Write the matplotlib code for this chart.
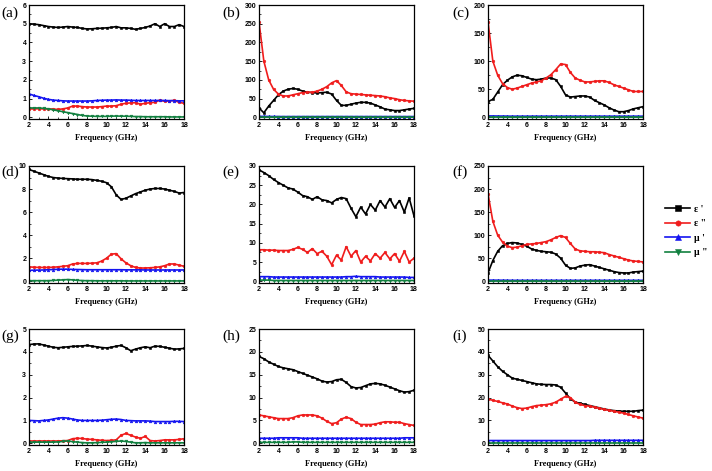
import matplotlib
matplotlib.use("Agg")
import matplotlib.pyplot as plt
from matplotlib.ticker import MultipleLocator

# Frequency grid (GHz)
freq = [2, 2.5, 3, 3.5, 4, 4.5, 5, 5.5, 6, 6.5, 7, 7.5, 8, 8.5, 9, 9.5, 10,
        10.5, 11, 11.5, 12, 12.5, 13, 13.5, 14, 14.5, 15, 15.5, 16, 16.5, 17, 17.5, 18]

# (a)
a_eps1 = [5.00, 4.98, 4.95, 4.90, 4.85, 4.82, 4.80, 4.82, 4.85, 4.82, 4.80, 4.75, 4.72, 4.73, 4.75, 4.76, 4.78,
          4.80, 4.85, 4.78, 4.78, 4.75, 4.70, 4.75, 4.80, 4.88, 5.00, 4.85, 5.00, 4.85, 4.85, 4.95, 4.85]
a_eps2 = [0.45, 0.45, 0.46, 0.45, 0.45, 0.44, 0.42, 0.45, 0.50, 0.60, 0.60, 0.57, 0.55, 0.55, 0.55, 0.57, 0.60,
          0.60, 0.62, 0.70, 0.75, 0.77, 0.78, 0.70, 0.75, 0.78, 0.80, 0.92, 0.85, 0.88, 0.90, 0.80, 0.75]
a_mu1 = [1.25, 1.17, 1.10, 1.02, 0.96, 0.92, 0.90, 0.88, 0.87, 0.87, 0.87, 0.87, 0.87, 0.88, 0.90, 0.91, 0.92,
         0.92, 0.93, 0.92, 0.92, 0.91, 0.90, 0.90, 0.90, 0.90, 0.90, 0.90, 0.90, 0.89, 0.89, 0.88, 0.88]
a_mu2 = [0.50, 0.50, 0.50, 0.48, 0.45, 0.40, 0.35, 0.30, 0.25, 0.20, 0.15, 0.10, 0.07, 0.06, 0.05, 0.05, 0.05,
         0.06, 0.07, 0.06, 0.06, 0.05, 0.04, 0.04, 0.03, 0.03, 0.03, 0.03, 0.03, 0.02, 0.02, 0.02, 0.02]

# (b)
b_eps1 = [25, 12, 30, 45, 60, 70, 75, 77, 75, 70, 67, 66, 65, 66, 67, 62, 45,
          32, 32, 35, 38, 40, 40, 38, 33, 28, 22, 20, 18, 18, 20, 22, 24]
b_eps2 = [255, 150, 100, 75, 62, 57, 57, 60, 63, 66, 67, 67, 70, 75, 82, 92, 98,
          85, 68, 63, 62, 61, 60, 59, 58, 57, 55, 52, 50, 47, 45, 44, 43]
b_mu1 = [2.5, 2.4, 2.3, 2.2, 2.1, 2.0, 2.0, 2.0, 2.0, 2.0, 2.0, 2.0, 2.0, 2.0, 2.0, 2.0, 2.0,
         2.0, 2.0, 2.0, 2.0, 2.0, 2.0, 2.0, 2.0, 2.0, 2.0, 2.0, 2.0, 2.0, 2.0, 2.0, 2.0]
b_mu2 = [0.5, 0.5, 0.5, 0.4, 0.4, 0.3, 0.3, 0.3, 0.3, 0.3, 0.3, 0.3, 0.3, 0.3, 0.3, 0.3, 0.3,
         0.3, 0.3, 0.3, 0.3, 0.3, 0.3, 0.3, 0.3, 0.3, 0.3, 0.3, 0.3, 0.3, 0.3, 0.3, 0.3]

# (c)
c_eps1 = [28, 32, 45, 58, 66, 72, 75, 74, 71, 68, 67, 68, 70, 70, 67, 55, 40,
          36, 37, 38, 38, 36, 30, 26, 22, 17, 13, 10, 10, 12, 15, 17, 19]
c_eps2 = [170, 100, 75, 60, 53, 50, 52, 55, 58, 61, 63, 65, 70, 76, 85, 95, 94,
          80, 70, 66, 63, 63, 64, 65, 65, 62, 58, 55, 52, 49, 46, 46, 46]
c_mu1 = [2.5, 2.4, 2.3, 2.2, 2.1, 2.0, 2.0, 2.0, 2.0, 2.0, 2.0, 2.0, 2.0, 2.0, 2.0, 2.0, 2.0,
         2.0, 2.0, 2.0, 2.0, 2.0, 2.0, 2.0, 2.0, 2.0, 2.0, 2.0, 2.0, 2.0, 2.0, 2.0, 2.0]
c_mu2 = [0.4, 0.4, 0.4, 0.3, 0.3, 0.3, 0.3, 0.3, 0.3, 0.3, 0.3, 0.3, 0.3, 0.3, 0.3, 0.3, 0.3,
         0.3, 0.3, 0.3, 0.3, 0.3, 0.3, 0.3, 0.3, 0.3, 0.3, 0.3, 0.3, 0.3, 0.3, 0.3, 0.3]

# (d)
d_eps1 = [9.70, 9.55, 9.40, 9.25, 9.10, 9.00, 8.95, 8.92, 8.90, 8.88, 8.85, 8.85, 8.85, 8.82, 8.75, 8.68, 8.55,
          8.20, 7.50, 7.10, 7.20, 7.40, 7.60, 7.75, 7.90, 8.00, 8.05, 8.05, 8.00, 7.90, 7.80, 7.65, 7.70]
d_eps2 = [1.25, 1.22, 1.20, 1.20, 1.20, 1.22, 1.25, 1.30, 1.35, 1.50, 1.55, 1.55, 1.55, 1.57, 1.60, 1.75, 2.00,
          2.35, 2.40, 1.95, 1.60, 1.35, 1.20, 1.15, 1.15, 1.17, 1.20, 1.25, 1.35, 1.50, 1.50, 1.40, 1.30]
d_mu1 = [0.95, 0.96, 0.97, 0.98, 1.00, 1.02, 1.04, 1.05, 1.05, 1.03, 1.02, 1.01, 1.00, 1.00, 1.00, 1.00, 1.00,
         1.00, 1.00, 1.00, 0.99, 0.99, 0.99, 0.99, 0.98, 0.98, 0.98, 0.98, 0.98, 0.98, 0.98, 0.98, 0.98]
d_mu2 = [0.05, 0.05, 0.05, 0.05, 0.05, 0.07, 0.10, 0.12, 0.15, 0.12, 0.08, 0.06, 0.05, 0.05, 0.04, 0.04, 0.04,
         0.04, 0.04, 0.04, 0.03, 0.03, 0.03, 0.03, 0.03, 0.03, 0.03, 0.03, 0.03, 0.03, 0.03, 0.03, 0.03]

# (e)
e_eps1 = [29.0, 28.3, 27.5, 26.5, 25.7, 25.0, 24.3, 24.0, 23.2, 22.3, 22.0, 21.3, 22.0, 21.2, 21.0, 20.4, 21.3,
          21.8, 21.5, 19.0, 16.8, 19.3, 17.5, 20.0, 18.5, 21.0, 19.3, 21.5, 19.2, 21.0, 18.0, 21.7, 17.0]
e_eps2 = [8.2, 8.2, 8.1, 8.1, 8.0, 8.0, 8.0, 8.3, 8.8, 8.3, 7.5, 8.5, 7.2, 7.8, 6.5, 4.3, 6.8,
          5.5, 9.0, 6.5, 8.0, 5.0, 6.5, 5.3, 7.2, 6.0, 7.5, 5.8, 7.2, 5.2, 7.8, 5.0, 6.0]
e_mu1 = [1.2, 1.2, 1.2, 1.1, 1.1, 1.1, 1.1, 1.1, 1.1, 1.1, 1.1, 1.1, 1.1, 1.1, 1.1, 1.1, 1.1,
         1.1, 1.2, 1.2, 1.3, 1.2, 1.2, 1.2, 1.2, 1.1, 1.1, 1.1, 1.1, 1.1, 1.1, 1.0, 1.0]
e_mu2 = [0.3, 0.3, 0.3, 0.2, 0.2, 0.2, 0.2, 0.2, 0.2, 0.2, 0.2, 0.2, 0.2, 0.2, 0.2, 0.2, 0.2,
         0.2, 0.2, 0.2, 0.2, 0.2, 0.2, 0.2, 0.2, 0.2, 0.2, 0.2, 0.2, 0.2, 0.2, 0.2, 0.2]

# (f)
f_eps1 = [18, 45, 65, 77, 82, 84, 83, 80, 76, 70, 67, 65, 64, 63, 59, 50, 35,
          28, 29, 33, 35, 36, 33, 30, 27, 24, 21, 19, 18, 18, 20, 21, 22]
f_eps2 = [190, 130, 100, 85, 76, 73, 74, 77, 80, 81, 82, 84, 86, 90, 95, 99, 95,
          82, 70, 66, 65, 64, 64, 63, 62, 58, 55, 52, 49, 46, 44, 43, 42]
f_mu1 = [2.5, 2.4, 2.3, 2.2, 2.1, 2.0, 2.0, 2.0, 2.0, 2.0, 2.0, 2.0, 2.0, 2.0, 2.0, 2.0, 2.0,
         2.0, 2.0, 2.0, 2.0, 2.0, 2.0, 2.0, 2.0, 2.0, 2.0, 2.0, 2.0, 2.0, 2.0, 2.0, 2.0]
f_mu2 = [0.4, 0.4, 0.4, 0.3, 0.3, 0.3, 0.3, 0.3, 0.3, 0.3, 0.3, 0.3, 0.3, 0.3, 0.3, 0.3, 0.3,
         0.3, 0.3, 0.3, 0.3, 0.3, 0.3, 0.3, 0.3, 0.3, 0.3, 0.3, 0.3, 0.3, 0.3, 0.3, 0.3]

# (g)
g_eps1 = [4.32, 4.34, 4.35, 4.30, 4.25, 4.20, 4.18, 4.20, 4.22, 4.24, 4.25, 4.26, 4.28, 4.25, 4.22, 4.19, 4.17,
          4.20, 4.25, 4.28, 4.18, 4.05, 4.12, 4.18, 4.22, 4.18, 4.25, 4.24, 4.20, 4.16, 4.12, 4.13, 4.15]
g_eps2 = [0.10, 0.10, 0.10, 0.10, 0.10, 0.10, 0.10, 0.11, 0.12, 0.20, 0.22, 0.21, 0.18, 0.17, 0.15, 0.13, 0.12,
          0.13, 0.15, 0.35, 0.43, 0.35, 0.27, 0.22, 0.30, 0.12, 0.10, 0.12, 0.15, 0.15, 0.15, 0.17, 0.20]
g_mu1 = [1.00, 0.99, 0.98, 1.00, 1.02, 1.06, 1.10, 1.12, 1.10, 1.06, 1.02, 1.00, 1.00, 1.00, 1.00, 1.01, 1.03,
         1.05, 1.06, 1.04, 1.00, 0.99, 0.98, 0.98, 0.98, 0.97, 0.95, 0.95, 0.95, 0.95, 0.96, 0.96, 0.95]
g_mu2 = [0.05, 0.05, 0.05, 0.05, 0.05, 0.05, 0.06, 0.08, 0.10, 0.07, 0.05, 0.03, 0.02, 0.02, 0.03, 0.04, 0.05,
         0.07, 0.08, 0.10, 0.08, 0.05, 0.02, 0.02, 0.03, 0.02, 0.02, 0.02, 0.02, 0.02, 0.02, 0.02, 0.02]

# (h)
h_eps1 = [19.0, 18.5, 17.8, 17.3, 16.8, 16.5, 16.3, 16.1, 15.7, 15.3, 14.9, 14.5, 14.1, 13.6, 13.4, 13.5, 13.9,
          14.0, 13.3, 12.4, 12.1, 12.2, 12.6, 13.0, 13.1, 13.0, 12.7, 12.3, 11.9, 11.5, 11.2, 11.3, 11.6]
h_eps2 = [6.2, 6.0, 5.8, 5.6, 5.4, 5.4, 5.4, 5.6, 6.0, 6.2, 6.2, 6.2, 6.0, 5.5, 4.8, 4.3, 4.5,
          5.3, 5.7, 5.4, 4.6, 4.1, 4.1, 4.1, 4.2, 4.5, 4.7, 4.7, 4.6, 4.6, 4.3, 4.1, 3.9]
h_mu1 = [1.1, 1.1, 1.1, 1.1, 1.2, 1.2, 1.2, 1.2, 1.2, 1.1, 1.1, 1.1, 1.1, 1.1, 1.1, 1.1, 1.1,
         1.1, 1.1, 1.1, 1.1, 1.1, 1.1, 1.1, 1.1, 1.1, 1.1, 1.1, 1.1, 1.1, 1.2, 1.2, 1.2]
h_mu2 = [0.2, 0.2, 0.2, 0.2, 0.2, 0.2, 0.2, 0.3, 0.3, 0.2, 0.2, 0.2, 0.2, 0.2, 0.2, 0.2, 0.2,
         0.2, 0.2, 0.2, 0.2, 0.2, 0.2, 0.2, 0.2, 0.2, 0.2, 0.2, 0.2, 0.2, 0.2, 0.2, 0.2]

# (i)
i_eps1 = [38.5, 36.0, 33.5, 31.5, 30.0, 28.5, 28.0, 27.5, 27.0, 26.5, 26.0, 25.8, 25.7, 25.7, 25.5, 24.5, 22.0,
          19.5, 18.0, 17.5, 17.0, 16.5, 16.0, 15.5, 15.0, 14.6, 14.3, 14.1, 14.0, 14.0, 14.0, 14.3, 14.5]
i_eps2 = [19.3, 18.8, 18.3, 17.7, 17.2, 16.3, 15.6, 15.2, 15.4, 16.0, 16.5, 16.7, 16.9, 17.3, 18.0, 19.3, 20.5,
          20.0, 18.0, 17.0, 16.5, 16.2, 15.8, 15.3, 14.8, 14.4, 14.0, 13.6, 13.2, 12.6, 12.0, 11.5, 11.0]
i_mu1 = [1.2, 1.2, 1.2, 1.2, 1.2, 1.2, 1.2, 1.2, 1.2, 1.2, 1.2, 1.2, 1.2, 1.2, 1.2, 1.2, 1.2,
         1.2, 1.2, 1.2, 1.2, 1.2, 1.3, 1.3, 1.3, 1.3, 1.3, 1.3, 1.3, 1.3, 1.3, 1.3, 1.3]
i_mu2 = [0.3, 0.3, 0.3, 0.3, 0.3, 0.3, 0.3, 0.3, 0.3, 0.3, 0.3, 0.3, 0.3, 0.3, 0.3, 0.3, 0.3,
         0.3, 0.3, 0.3, 0.3, 0.3, 0.3, 0.3, 0.3, 0.3, 0.3, 0.3, 0.3, 0.3, 0.3, 0.3, 0.3]

panel_labels = ["(a)", "(b)", "(c)", "(d)", "(e)", "(f)", "(g)", "(h)", "(i)"]
y_max = [6, 300, 200, 10, 30, 250, 5, 25, 50]
y_step = [1, 50, 50, 2, 5, 50, 1, 5, 10]
series_names = ["\u03b5 '", '\u03b5 "', "\u03bc '", '\u03bc "']

panels = [
    [a_eps1, a_eps2, a_mu1, a_mu2],
    [b_eps1, b_eps2, b_mu1, b_mu2],
    [c_eps1, c_eps2, c_mu1, c_mu2],
    [d_eps1, d_eps2, d_mu1, d_mu2],
    [e_eps1, e_eps2, e_mu1, e_mu2],
    [f_eps1, f_eps2, f_mu1, f_mu2],
    [g_eps1, g_eps2, g_mu1, g_mu2],
    [h_eps1, h_eps2, h_mu1, h_mu2],
    [i_eps1, i_eps2, i_mu1, i_mu2],
]

colors = ["black", "#f01c1c", "#1414f0", "#128040"]
markers = ["s", "o", "^", "v"]

W, H = 712, 471
fig = plt.figure(figsize=(W / 100, H / 100), dpi=100)

col_left = [29, 259, 488]
col_width = 155
row_top = [5, 166, 329]
row_bottom = [119, 283, 445]

handles = []
for k, data in enumerate(panels):
    r, c = divmod(k, 3)
    x0 = col_left[c] / W
    y0 = 1 - row_bottom[r] / H
    h = (row_bottom[r] - row_top[r]) / H
    ax = fig.add_axes([x0, y0, col_width / W, h])

    for j in range(4):
        ln, = ax.plot(freq, data[j], color=colors[j], marker=markers[j], markersize=1.9,
                      linewidth=1.2, markeredgewidth=0.4, label=series_names[j])
        if k == 5:
            handles.append(ln)

    ax.set_xlim(2, 18)
    ax.set_ylim(-0.015 * y_max[k], y_max[k])
    ax.xaxis.set_major_locator(MultipleLocator(2))
    ax.xaxis.set_minor_locator(MultipleLocator(1))
    ax.yaxis.set_major_locator(MultipleLocator(y_step[k]))
    ax.yaxis.set_minor_locator(MultipleLocator(y_step[k] / 2))
    ax.tick_params(which="both", direction="in", top=False, right=False, pad=2)
    ax.tick_params(which="major", length=2.5, width=0.6, labelsize=5)
    ax.tick_params(which="minor", length=1.5, width=0.5)
    for lab in ax.get_xticklabels() + ax.get_yticklabels():
        lab.set_fontweight("bold")
        lab.set_family("Liberation Sans")
    for sp in ax.spines.values():
        sp.set_linewidth(0.9)
    ax.set_xlabel("Frequency (GHz)", fontsize=6, fontweight="bold",
                  family="Liberation Serif", labelpad=4)

    lx = [1, 222, 452][c]
    ly = [13, 172, 336][r]
    fig.text(lx / W, 1 - ly / H, panel_labels[k], fontsize=11, family="Liberation Serif",
             ha="left", va="center")

fig.legend(handles=handles, labels=series_names, loc="upper left",
           bbox_to_anchor=(660 / W, 1 - 200 / H), frameon=False,
           prop={"family": "Liberation Serif", "weight": "bold", "size": 7},
           handlelength=2.6, handletextpad=0.4, labelspacing=0.55, borderpad=0,
           markerscale=2.0)

fig.savefig("out.png", dpi=100)
